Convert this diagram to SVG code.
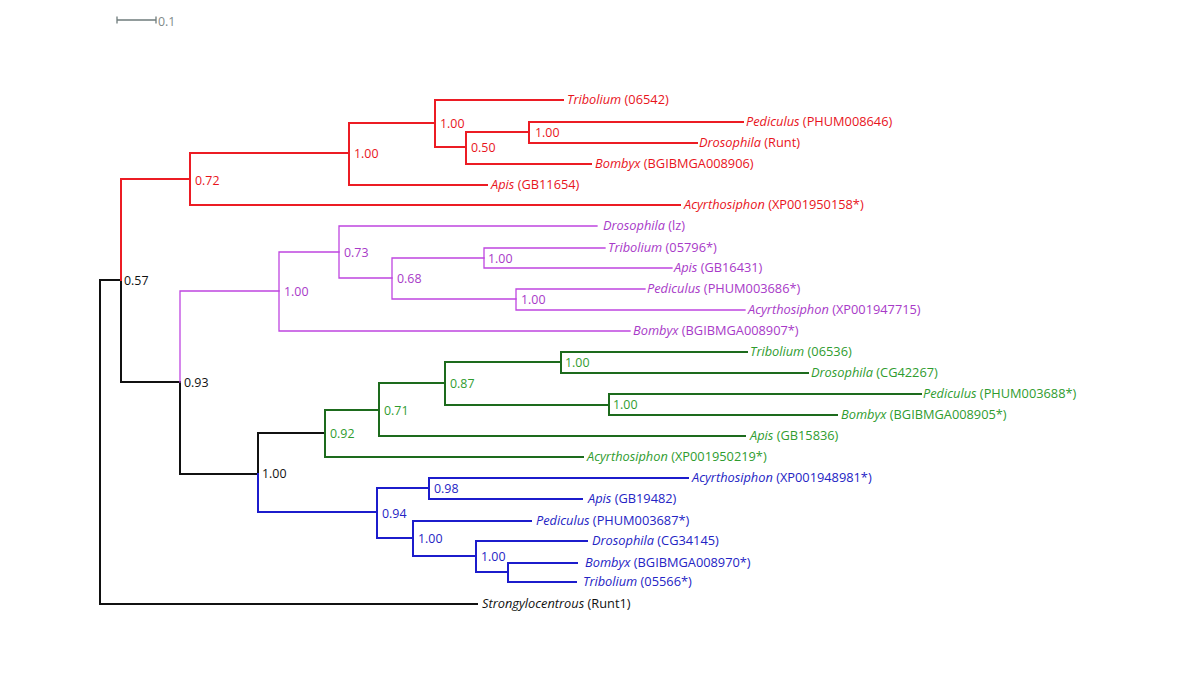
<svg xmlns="http://www.w3.org/2000/svg" width="1200" height="685" viewBox="0 0 1200 685">
<style>
text{font-family:"Open Sans","Noto Sans","Liberation Sans",sans-serif;font-size:12.8px}
.lab{font-size:12.4px}
.g{font-style:italic}
.e{fill:none;stroke-width:2;stroke-linejoin:miter;stroke-linecap:square}
.eR{stroke:#ec1c24}.eK{stroke:#111}.eM{stroke:#bf45e0;stroke-width:1.3}.eG{stroke:#1d6b1d}.eB{stroke:#1c1ccc}
.tR{fill:#e8141c}.tK{fill:#111}.tM{fill:#a83ac8}.tG{fill:#2f9c2f}.tB{fill:#2424c4}
</style>
<rect width="1200" height="685" fill="#fff"/>
<g id="scale-bar">
<path d="M117,20 H156 M117,16.5 V23.5 M156,16.5 V23.5" stroke="#6f7c7c" stroke-width="1.3" fill="none"/>
<text x="158" y="26" fill="#7f8a8a" class="lab">0.1</text>
</g>
<g id="connectors">
<path class="e eK" d="M121,280 H100 V604 H477"/>
<path class="e eK" d="M121,280 V382 H180 V474 H258 V433 H325"/>
<path class="e eR" d="M190,179 H121 V280"/>
<path class="e eR" d="M349,153 H190 V205 H680"/>
<path class="e eR" d="M435,123 H349 V185 H487"/>
<path class="e eR" d="M563,100 H435 V147 H466"/>
<path class="e eR" d="M529,132 H466 V164 H591"/>
<path class="e eR" d="M743,122 H529 V143 H697"/>
<path class="e eM" d="M180,382 V291 H279"/>
<path class="e eM" d="M339,252 H279 V331 H630"/>
<path class="e eM" d="M597,226 H339 V278 H392"/>
<path class="e eM" d="M484,258 H392 V299 H516"/>
<path class="e eM" d="M605,248 H484 V268 H672"/>
<path class="e eM" d="M645,289 H516 V310 H745"/>
<path class="e eG" d="M379,410 H325 V457 H583"/>
<path class="e eG" d="M445,383 H379 V436 H745"/>
<path class="e eG" d="M561,362 H445 V405 H609"/>
<path class="e eG" d="M747,352 H561 V373 H808"/>
<path class="e eG" d="M921,394 H609 V415 H837"/>
<path class="e eB" d="M258,474 V512 H377"/>
<path class="e eB" d="M429,488 H377 V538 H413"/>
<path class="e eB" d="M688,478 H429 V499 H582"/>
<path class="e eB" d="M531,521 H413 V556 H476"/>
<path class="e eB" d="M587,541 H476 V572 H508"/>
<path class="e eB" d="M577,563 H508 V582 H576"/>
</g>
<g id="node-root-057"><text class="lab tK" x="124" y="285">0.57</text></g>
<g id="node-093"><text class="lab tK" x="184" y="387">0.93</text></g>
<g id="node-100-k"><text class="lab tK" x="262" y="478">1.00</text></g>
<g id="node-072"><text class="lab tR" x="195" y="185">0.72</text></g>
<g id="node-100-r1"><text class="lab tR" x="354" y="158">1.00</text></g>
<g id="node-100-r2"><text class="lab tR" x="440" y="128">1.00</text></g>
<g id="node-050"><text class="lab tR" x="471" y="152">0.50</text></g>
<g id="node-100-r3"><text class="lab tR" x="535" y="137">1.00</text></g>
<g id="node-100-m1"><text class="lab tM" x="284" y="296">1.00</text></g>
<g id="node-073"><text class="lab tM" x="344" y="257">0.73</text></g>
<g id="node-068"><text class="lab tM" x="397" y="283">0.68</text></g>
<g id="node-100-m2"><text class="lab tM" x="488" y="263">1.00</text></g>
<g id="node-100-m3"><text class="lab tM" x="521" y="304">1.00</text></g>
<g id="node-092"><text class="lab tG" x="330" y="438">0.92</text></g>
<g id="node-071"><text class="lab tG" x="384" y="415">0.71</text></g>
<g id="node-087"><text class="lab tG" x="450" y="388">0.87</text></g>
<g id="node-100-g1"><text class="lab tG" x="565" y="367">1.00</text></g>
<g id="node-100-g2"><text class="lab tG" x="613" y="409">1.00</text></g>
<g id="node-094"><text class="lab tB" x="382" y="518">0.94</text></g>
<g id="node-098"><text class="lab tB" x="434" y="493">0.98</text></g>
<g id="node-100-b1"><text class="lab tB" x="418" y="543">1.00</text></g>
<g id="node-100-b2"><text class="lab tB" x="481" y="561">1.00</text></g>
<g id="leaf-r-tribolium"><text class="tR" x="567" y="104"><tspan class="g">Tribolium</tspan> (06542)</text></g>
<g id="leaf-r-pediculus"><text class="tR" x="746" y="126"><tspan class="g">Pediculus</tspan> (PHUM008646)</text></g>
<g id="leaf-r-drosophila"><text class="tR" x="699" y="147"><tspan class="g">Drosophila</tspan> (Runt)</text></g>
<g id="leaf-r-bombyx"><text class="tR" x="595" y="168"><tspan class="g">Bombyx</tspan> (BGIBMGA008906)</text></g>
<g id="leaf-r-apis"><text class="tR" x="491" y="189"><tspan class="g">Apis</tspan> (GB11654)</text></g>
<g id="leaf-r-acyrthosiphon"><text class="tR" x="684" y="209"><tspan class="g">Acyrthosiphon</tspan> (XP001950158*)</text></g>
<g id="leaf-m-drosophila"><text class="tM" x="603" y="230"><tspan class="g">Drosophila</tspan> (lz)</text></g>
<g id="leaf-m-tribolium"><text class="tM" x="608" y="252"><tspan class="g">Tribolium</tspan> (05796*)</text></g>
<g id="leaf-m-apis"><text class="tM" x="674" y="272"><tspan class="g">Apis</tspan> (GB16431)</text></g>
<g id="leaf-m-pediculus"><text class="tM" x="647" y="293"><tspan class="g">Pediculus</tspan> (PHUM003686*)</text></g>
<g id="leaf-m-acyrthosiphon"><text class="tM" x="748" y="314"><tspan class="g">Acyrthosiphon</tspan> (XP001947715)</text></g>
<g id="leaf-m-bombyx"><text class="tM" x="633" y="335"><tspan class="g">Bombyx</tspan> (BGIBMGA008907*)</text></g>
<g id="leaf-g-tribolium"><text class="tG" x="750" y="356"><tspan class="g">Tribolium</tspan> (06536)</text></g>
<g id="leaf-g-drosophila"><text class="tG" x="811" y="377"><tspan class="g">Drosophila</tspan> (CG42267)</text></g>
<g id="leaf-g-pediculus"><text class="tG" x="923" y="398"><tspan class="g">Pediculus</tspan> (PHUM003688*)</text></g>
<g id="leaf-g-bombyx"><text class="tG" x="841" y="419"><tspan class="g">Bombyx</tspan> (BGIBMGA008905*)</text></g>
<g id="leaf-g-apis"><text class="tG" x="750" y="440"><tspan class="g">Apis</tspan> (GB15836)</text></g>
<g id="leaf-g-acyrthosiphon"><text class="tG" x="587" y="461"><tspan class="g">Acyrthosiphon</tspan> (XP001950219*)</text></g>
<g id="leaf-b-acyrthosiphon"><text class="tB" x="692" y="482"><tspan class="g">Acyrthosiphon</tspan> (XP001948981*)</text></g>
<g id="leaf-b-apis"><text class="tB" x="588" y="503"><tspan class="g">Apis</tspan> (GB19482)</text></g>
<g id="leaf-b-pediculus"><text class="tB" x="536" y="525"><tspan class="g">Pediculus</tspan> (PHUM003687*)</text></g>
<g id="leaf-b-drosophila"><text class="tB" x="592" y="545"><tspan class="g">Drosophila</tspan> (CG34145)</text></g>
<g id="leaf-b-bombyx"><text class="tB" x="585" y="567"><tspan class="g">Bombyx</tspan> (BGIBMGA008970*)</text></g>
<g id="leaf-b-tribolium"><text class="tB" x="583" y="586"><tspan class="g">Tribolium</tspan> (05566*)</text></g>
<g id="leaf-strongylocentrous"><text class="tK" x="482" y="608"><tspan class="g">Strongylocentrous</tspan> (Runt1)</text></g>
</svg>
